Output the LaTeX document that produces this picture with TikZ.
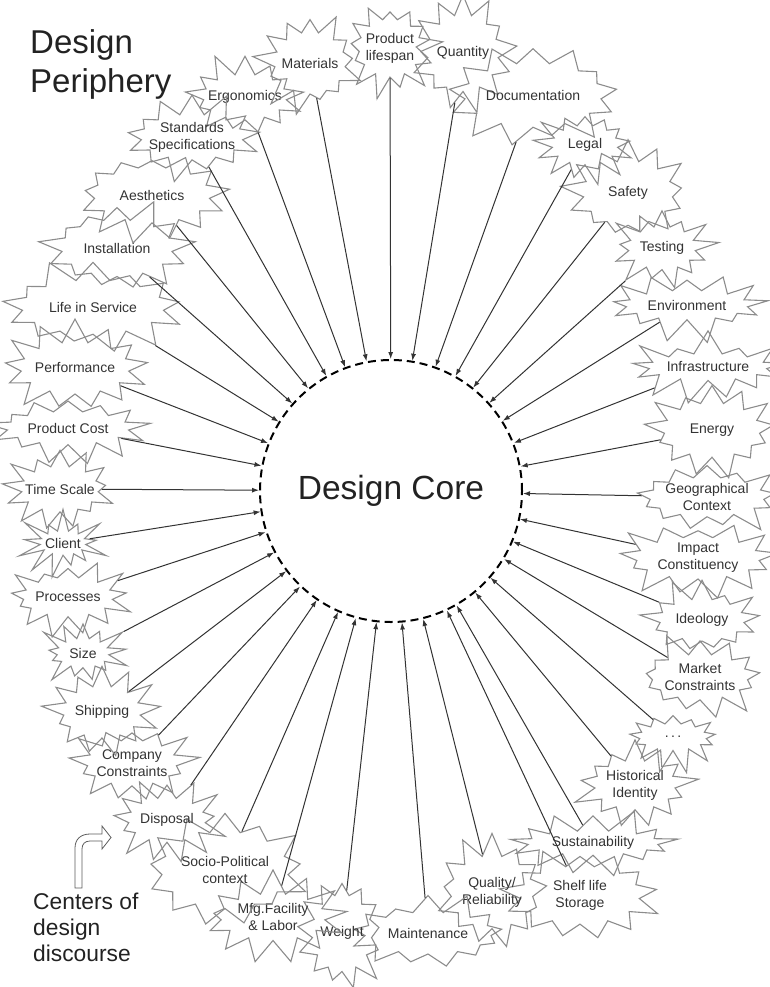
\documentclass[tikz,border=0pt]{standalone}
\usepackage{fontspec}
\setmainfont{Liberation Sans}
\usetikzlibrary{shapes.symbols,arrows.meta}
\definecolor{starline}{HTML}{8C8C8C}
\definecolor{ink}{HTML}{333333}
\definecolor{titleink}{HTML}{222222}
\begin{document}
\begin{tikzpicture}[x=1pt,y=-1pt,
  burst/.style={starburst, draw=starline, line width=1.1pt, starburst points=13,
    starburst point height=24pt, inner sep=0pt},
  sz/.style 2 args={/utils/exec={\pgfmathsetmacro\burstw{1.25*#1}\pgfmathsetmacro\bursth{1.25*#2}},
    minimum width=\burstw pt, minimum height=\bursth pt},
  lab/.style={text=ink, align=center, inner sep=0pt,
    font=\fontsize{14}{17}\selectfont},
  feed/.style={draw=ink, line width=1pt, -{Latex[length=7pt,width=5pt]}},
]
\useasboundingbox (0,0) rectangle (770,987);

% the core
\node[circle, draw=black, line width=2pt, dash pattern=on 8pt off 5pt,
  minimum size=262pt, inner sep=0pt, text=titleink,
  font=\fontsize{33.5}{40}\selectfont] (core) at (391,491) {Design Core};

% periphery, clockwise from the top left
\node[burst, sz={105}{75}, random starburst=11, label={[lab]center:Ergonomics}] (ergo) at (245,97) {};
\node[burst, sz={95}{88}, random starburst=12, label={[lab]center:Materials}] (materials) at (310,63) {};
\node[burst, sz={88}{85}, random starburst=13, label={[lab]center:{Product\\lifespan}}] (lifespan) at (390,48) {};
\node[burst, sz={95}{100}, random starburst=14, label={[lab]center:Quantity}] (quantity) at (463,53) {};
\node[burst, sz={148}{90}, random starburst=15, label={[lab]center:Documentation}] (docs) at (533,95) {};
\node[burst, sz={91}{70}, random starburst=16, label={[lab]center:Legal}] (legal) at (585,145) {};
\node[burst, sz={110}{90}, random starburst=17, label={[lab]center:Safety}] (safety) at (628,193) {};
\node[burst, sz={92}{73}, random starburst=18, label={[lab]center:Testing}] (testing) at (662,248) {};
\node[burst, sz={136}{62}, random starburst=19, label={[lab]center:Environment}] (environment) at (687,305) {};
\node[burst, sz={133}{60}, random starburst=20, label={[lab]center:Infrastructure}] (infra) at (708,367) {};
\node[burst, sz={115}{82}, random starburst=21, label={[lab]center:Energy}] (energy) at (712,430) {};
\node[burst, sz={130}{70}, random starburst=22, label={[lab]center:{Geographical\\Context}}] (geo) at (707,497) {};
\node[burst, sz={137}{72}, random starburst=23, label={[lab]center:{Impact\\Constituency}}] (impact) at (698,558) {};
\node[burst, sz={106}{72}, random starburst=24, label={[lab]center:Ideology}] (ideology) at (702,620) {};
\node[burst, sz={115}{75}, random starburst=25, label={[lab]center:{Market\\Constraints}}] (market) at (700,677) {};
\node[burst, sz={92}{60}, random starburst=26, label={[lab]center:{.\,.\,.}}] (more) at (673,737) {};
\node[burst, sz={103}{78}, random starburst=27, label={[lab]center:{Historical\\Identity}}] (historical) at (635,785) {};
\node[burst, sz={143}{58}, random starburst=28, label={[lab]center:Sustainability}] (sustain) at (593,843) {};
\node[burst, sz={134}{85}, random starburst=29, label={[lab]center:{Shelf life\\Storage}}] (shelf) at (580,895) {};
\node[burst, sz={104}{97}, random starburst=30, label={[lab]center:{Quality/\\Reliability}}] (quality) at (492,892) {};
\node[burst, sz={140}{72}, random starburst=31, label={[lab]center:Maintenance}] (maint) at (428,933) {};
\node[burst, sz={86}{100}, random starburst=32, label={[lab]center:Weight}] (weight) at (342,933) {};
\node[burst, sz={122}{76}, random starburst=33, label={[lab]center:{Mfg.Facility\\\&{} Labor}}] (mfg) at (273,917) {};
\node[burst, sz={140}{100}, random starburst=34, label={[lab]center:{Socio-Political\\context}}] (socio) at (225,870) {};
\node[burst, sz={100}{74}, random starburst=35, label={[lab]center:Disposal}] (disposal) at (167,820) {};
\node[burst, sz={110}{75}, random starburst=36, label={[lab]center:{Company\\Constraints}}] (company) at (132,763) {};
\node[burst, sz={100}{80}, random starburst=37, label={[lab]center:Shipping}] (shipping) at (102,712) {};
\node[burst, sz={80}{62}, random starburst=38, label={[lab]center:Size}] (size) at (83,653) {};
\node[burst, sz={110}{70}, random starburst=39, label={[lab]center:Processes}] (processes) at (68,597) {};
\node[burst, sz={75}{58}, random starburst=40, label={[lab]center:Client}] (client) at (63,543) {};
\node[burst, sz={100}{75}, random starburst=41, label={[lab]center:Time Scale}] (timescale) at (60,489) {};
\node[burst, sz={136}{65}, random starburst=42, label={[lab]center:Product Cost}] (cost) at (68,428) {};
\node[burst, sz={125}{80}, random starburst=43, label={[lab]center:Performance}] (performance) at (75,368) {};
\node[burst, sz={152}{82}, random starburst=44, label={[lab]center:Life in Service}] (life) at (93,307) {};
\node[burst, sz={127}{84}, random starburst=45, label={[lab]center:Installation}] (install) at (117,248) {};
\node[burst, sz={131}{83}, random starburst=46, label={[lab]center:Aesthetics}] (aesth) at (152,195) {};
\node[burst, sz={120}{75}, random starburst=47, label={[lab]center:{Standards\\Specifications}}] (standards) at (192,137) {};

% every centre feeds the core
\foreach \s in {ergo,materials,lifespan,quantity,docs,legal,safety,testing,
  environment,infra,energy,geo,impact,ideology,market,more,historical,sustain,
  shelf,quality,maint,weight,mfg,socio,disposal,company,shipping,size,processes,
  client,timescale,cost,performance,life,install,aesth,standards}
  \draw[feed] (\s) -- (core);

% titles
\node[anchor=north west, align=left, inner sep=0pt, text=titleink,
  font=\fontsize{33}{39}\selectfont] (periphery) at (30,29) {Design\\Periphery};
\node[anchor=north west, align=left, inner sep=0pt, text=titleink,
  font=\fontsize{22.8}{26}\selectfont] (centers) at (33,893) {Centers of\\design\\discourse};

% hollow bent pointer
\draw[draw=ink!80, line width=0.8pt, line join=miter]
  (75,888) -- (75,848) .. controls (75,839) and (81,834) .. (90,834)
  -- (102,834) -- (102,826) -- (111,837.5) -- (102,849) -- (102,841)
  -- (90,841) .. controls (85,841) and (82,844) .. (82,849) -- (82,888) -- cycle;
\end{tikzpicture}
\end{document}
